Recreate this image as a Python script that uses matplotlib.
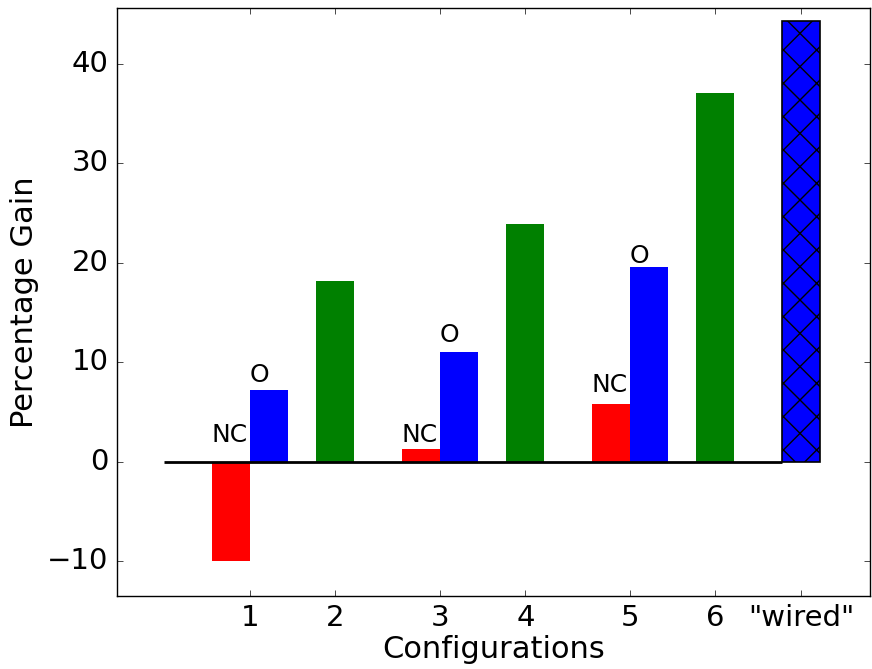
import numpy as np
import matplotlib
matplotlib.use("Agg")
import matplotlib.pyplot as plt

plt.style.use("classic")
plt.rcParams["font.family"] = "DejaVu Sans"
plt.rcParams["hatch.linewidth"] = 1.0

# gain (%) per configuration
nc_gain = [-10.0, 1.3, 5.8]        # configs 1, 3, 5 without coordination
o_gain = [7.2, 11.0, 19.6]         # configs 1, 3, 5 optimised
even_gain = [18.2, 23.9, 37.1]     # configs 2, 4, 6
wired_gain = 44.3
tick_names = ["1", "2", "3", "4", "5", "6", '"wired"']

# heights where the NC / O tags sit
nc_tag_y = [2, 2, 7]
o_tag_y = [8, 12, 20]

width = 0.4
pair_x = np.arange(3) * 2.0
even_x = pair_x + 0.9
wired_x = 5.8

fig = plt.figure(figsize=(8.72, 6.69), dpi=100, facecolor="white")
ax = fig.add_axes([0.134, 0.109, 0.864, 0.879])

ax.bar(pair_x - width, nc_gain, width, align="edge", color="r", linewidth=0)
ax.bar(pair_x, o_gain, width, align="edge", color="b", linewidth=0)
ax.bar(even_x, even_gain, width, align="center", color="g", linewidth=0)
ax.bar(wired_x, wired_gain, width, align="center", color="b",
       edgecolor="k", linewidth=1.2, hatch="x")

for x, y in zip(pair_x - width, nc_tag_y):
    ax.text(x, y, "NC", fontsize=18)
for x, y in zip(pair_x, o_tag_y):
    ax.text(x, y, "O", fontsize=18)

ax.hlines(0, -0.9, 5.6, color="k", linewidth=2)

ticks = [pair_x[0], even_x[0], pair_x[1], even_x[1], pair_x[2], even_x[2], wired_x]
ax.set_xticks(ticks)
ax.set_xticklabels(tick_names)
ax.set_yticks([-10, 0, 10, 20, 30, 40])
ax.set_xlim(-1.4, 6.53)
ax.set_ylim(-13.5, 45.6)
ax.tick_params(labelsize=21, direction="in", length=4, pad=6)

ax.set_xlabel("Configurations", fontsize=22, labelpad=2)
ax.set_ylabel("Percentage Gain", fontsize=22, labelpad=6)

fig.savefig("out.png", dpi=100, facecolor="white")
